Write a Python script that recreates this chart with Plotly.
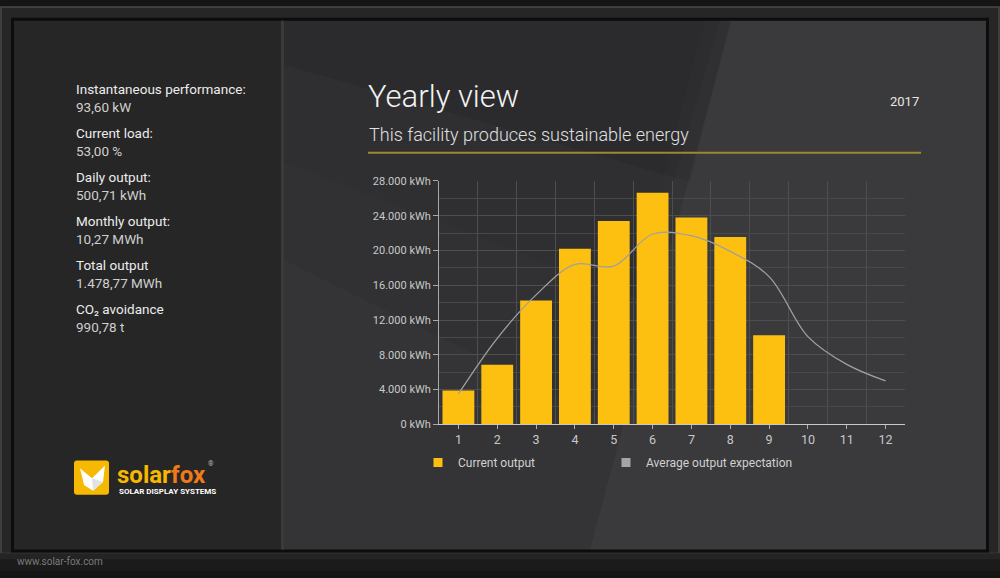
import plotly.graph_objects as go

# chart data
months = [1, 2, 3, 4, 5, 6, 7, 8, 9, 10, 11, 12]
current_output = [3900, 6850, 14250, 20200, 23400, 26650, 23800, 21550, 10250, None, None, None]
expected_output = [3500, 9900, 14900, 18400, 18200, 21900, 21700, 19900, 17000, 10100, 6900, 5000]

# side panel figures
panel_labels = ["Instantaneous performance:", "Current load:", "Daily output:",
                "Monthly output:", "Total output", "CO₂ avoidance"]
panel_values = ["93,60 kW", "53,00 %", "500,71 kWh", "10,27 MWh", "1.478,77 MWh", "990,78 t"]

W, H = 1000, 578
FONT = "Roboto"
YELLOW = "#FDC010"
GREY_LINE = "#a0a0a0"


def px(x):
    return x / W


def py(y):
    return 1 - y / H


def rect(x0, y0, x1, y1, fill, line=None, lw=0):
    return dict(type="rect", xref="paper", yref="paper", layer="below",
                x0=px(x0), x1=px(x1), y0=py(y1), y1=py(y0),
                fillcolor=fill, line=dict(color=line or fill, width=lw))


def poly(points, fill, layer="below"):
    path = "M " + " L ".join(f"{px(x)},{py(y)}" for x, y in points) + " Z"
    return dict(type="path", xref="paper", yref="paper", layer=layer,
                path=path, fillcolor=fill, line=dict(width=0))


def text(x, y, s, size, color, anchor="left", weight="normal", family=FONT):
    return dict(x=px(x), y=py(y), xref="paper", yref="paper", text=s,
                showarrow=False, xanchor=anchor, yanchor="middle",
                font=dict(family=family, size=size, color=color, weight=weight))


fig = go.Figure()

fig.add_trace(go.Bar(
    x=months, y=current_output, width=0.82,
    marker=dict(color=YELLOW, line=dict(width=0)),
    showlegend=False, hoverinfo="y"
))
fig.add_trace(go.Scatter(
    x=months, y=expected_output, mode="lines",
    line=dict(color=GREY_LINE, width=1.3, shape="spline", smoothing=1),
    showlegend=False, hoverinfo="y"
))
# legend entries (square swatches like the display shows)
fig.add_trace(go.Scatter(x=[None], y=[None], mode="markers", name="Current output",
                         marker=dict(symbol="square", size=9, color=YELLOW)))
fig.add_trace(go.Scatter(x=[None], y=[None], mode="markers", name="Average output expectation",
                         marker=dict(symbol="square", size=9, color="#a5a5a5")))

shapes = [
    # bezel
    rect(1, 1, 999, 560, "#262626", "#4a4a4a", 1.5),
    rect(0, 560, 1000, 578, "#1b1b1b"),
    rect(0, 560, 1000, 566, "#242424"),
    # screen panels
    rect(12, 13, 988, 558, "#0d0d0d", "#0d0d0d", 2),
    rect(14, 15, 281, 556, "#262626"),
    rect(281, 15, 986, 556, "#343436"),
    rect(281, 15, 284, 556, "#3a3a3a"),
    poly([(284, 15), (731, 15), (690, 180), (284, 60)], "rgba(0,0,0,0.06)"),
    poly([(284, 15), (720, 15), (640, 300), (284, 160)], "rgba(0,0,0,0.05)"),
    poly([(284, 15), (705, 15), (600, 420), (284, 260)], "rgba(0,0,0,0.04)"),
    poly([(731, 15), (986, 15), (986, 556), (590, 556)], "rgba(255,255,255,0.03)"),
    # gold rule under the heading
    dict(type="line", xref="paper", yref="paper", x0=px(368), x1=px(921),
         y0=py(150), y1=py(150), line=dict(color="#9c8a2e", width=2)),
    # logo tile and fox head
    dict(type="path", xref="paper", yref="paper",
         path=(f"M {px(77)},{py(465)} L {px(106)},{py(465)} Q {px(109)},{py(465)} {px(109)},{py(468)} "
               f"L {px(109)},{py(497)} Q {px(109)},{py(500)} {px(106)},{py(500)} L {px(77)},{py(500)} "
               f"Q {px(74)},{py(500)} {px(74)},{py(497)} L {px(74)},{py(468)} Q {px(74)},{py(465)} {px(77)},{py(465)} Z"),
         fillcolor="#F6B800", line=dict(width=0)),
    poly([(80, 473), (92, 483), (105, 470), (103, 487), (93, 496), (84, 490)], "#ffffff", "above"),
    poly([(92, 483), (103, 487), (93, 496)], "#e2e2e2", "above"),
]

annotations = []
for i, (lab, val) in enumerate(zip(panel_labels, panel_values)):
    annotations.append(text(74, 85 + 45 * i, lab, 13.5, "#ececec"))
    annotations.append(text(74, 103 + 45 * i, val, 13.5, "#cfcfcf"))

annotations += [
    text(366, 93, "Yearly view", 31, "#f2f2f2", weight=300),
    text(367, 131, "This facility produces sustainable energy", 18, "#e0e0e0", weight=300),
    text(921, 98, "2017", 13, "#e6e6e6", anchor="right"),
    text(115, 480, '<span style="color:#F6B800">solar</span><span style="color:#F07A1A">fox</span>',
         24, "#F6B800", weight="bold", family="Liberation Sans Narrow, Roboto"),
    text(206, 469, "®", 7, "#bbbbbb"),
    text(117, 497, "SOLAR DISPLAY SYSTEMS", 8, "#ffffff", weight="bold",
         family="Liberation Sans Narrow, Roboto"),
    text(15, 568, "www.solar-fox.com", 10, "#7c7c7c"),
]

fig.update_layout(
    width=W, height=H,
    margin=dict(l=0, r=0, t=0, b=0),
    paper_bgcolor="#151515",
    plot_bgcolor="rgba(0,0,0,0)",
    separators=",.",
    font=dict(family=FONT, color="#c8c8c8", size=12),
    barmode="overlay",
    shapes=shapes,
    annotations=annotations,
    showlegend=True,
    legend=dict(orientation="h", x=px(418), y=py(467), xanchor="left", yanchor="middle",
                bgcolor="rgba(0,0,0,0)", font=dict(size=12, color="#d0d0d0"),
                entrywidth=143, entrywidthmode="pixels", itemwidth=30),
    xaxis=dict(
        domain=[px(439), px(905)], range=[0.5, 12.5],
        tickmode="linear", tick0=1, dtick=1,
        showgrid=False, zeroline=False,
        showline=True, linecolor="#c8c8c8", linewidth=1,
        ticks="outside", ticklen=4, tickcolor="#b0b0b0",
        tickfont=dict(size=12.5, color="#c8c8c8"),
        minor=dict(tickmode="linear", tick0=0.5, dtick=1, showgrid=True,
                   gridcolor="#4e4e4e", gridwidth=1, ticks=""),
    ),
    yaxis=dict(
        domain=[py(428), py(179)], range=[0, 28000],
        tickmode="linear", tick0=0, dtick=4000,
        tickformat=",d", ticksuffix=" kWh",
        showgrid=True, gridcolor="#4e4e4e", gridwidth=1, zeroline=False,
        showline=True, linecolor="#a8a8a8", linewidth=1,
        ticks="outside", ticklen=5, tickcolor="#a8a8a8",
        tickfont=dict(size=11, color="#c8c8c8"),
        minor=dict(dtick=2000, showgrid=True, gridcolor="#484848", gridwidth=1, ticks=""),
    ),
)

# pin the graph to the top-left corner of the page
pin = ("document.body.style.margin='0';document.body.style.overflow='hidden';"
       "var d=document.getElementById('{plot_id}');"
       "d.style.position='fixed';d.style.left='0';d.style.top='0';")

fig.write_html("out.html", config={"displayModeBar": False}, post_script=pin)
